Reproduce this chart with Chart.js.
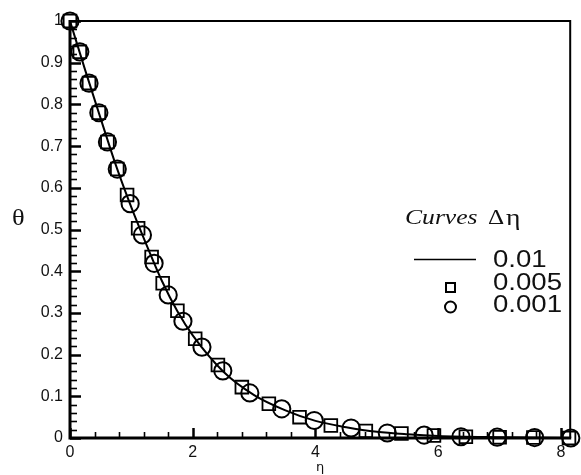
<!DOCTYPE html>
<html>
<head>
<meta charset="utf-8">
<script src="https://cdn.jsdelivr.net/npm/chart.js@4.4.1/dist/chart.umd.min.js"></script>
<style>
  html, body { margin: 0; padding: 0; background: #fff; }
  #wrap { width: 581px; height: 475px; }
</style>
</head>
<body>
<div id="wrap"><canvas id="theta-chart" width="581" height="475"></canvas></div>
<script>
// tick labels
const xTicks = [0, 2, 4, 6, 8];
const yTicks = [0, 0.1, 0.2, 0.3, 0.4, 0.5, 0.6, 0.7, 0.8, 0.9, 1];
const yTickLabels = ['0', '0.1', '0.2', '0.3', '0.4', '0.5', '0.6', '0.7', '0.8', '0.9', '1'];

// d_eta = 0.01 (solid line)
const lineEta   = [0, 0.25, 0.5, 0.75, 1.0, 1.25, 1.5, 1.75, 2.0, 2.5, 3.0, 3.5, 4.0, 4.5, 5.0, 5.5, 6.0, 7.0, 8.15];
const lineTheta = [1.0, 0.881, 0.766, 0.653, 0.553, 0.462, 0.376, 0.304, 0.246, 0.159, 0.103, 0.067, 0.041, 0.026, 0.015, 0.009, 0.005, 0.002, 0.0];

// d_eta = 0.005 (squares)
const squareEta   = [0, 0.16, 0.31, 0.47, 0.61, 0.77, 0.93, 1.11, 1.33, 1.51, 1.75, 2.04, 2.41, 2.8, 3.24, 3.74, 4.25, 4.82, 5.4, 5.93, 6.45, 7.0, 7.55, 8.13];
const squareTheta = [1.0, 0.926, 0.851, 0.78, 0.71, 0.645, 0.583, 0.503, 0.434, 0.371, 0.305, 0.238, 0.175, 0.122, 0.082, 0.05, 0.03, 0.017, 0.011, 0.006, 0.003, 0.002, 0.001, 0.0];

// d_eta = 0.001 (circles)
const circleEta   = [0, 0.16, 0.31, 0.47, 0.61, 0.77, 0.98, 1.18, 1.37, 1.6, 1.84, 2.15, 2.49, 2.93, 3.45, 3.98, 4.58, 5.17, 5.77, 6.37, 6.96, 7.57, 8.16];
const circleTheta = [1.0, 0.926, 0.851, 0.78, 0.71, 0.645, 0.562, 0.487, 0.419, 0.343, 0.28, 0.218, 0.161, 0.108, 0.07, 0.042, 0.024, 0.012, 0.007, 0.003, 0.002, 0.001, 0.0];

const toPoints = (xs, ys) => xs.map((v, i) => ({ x: v, y: ys[i] }));

// frame plus inward major/minor ticks
const frameAndTicks = {
    id: 'frameAndTicks',
    beforeDatasetsDraw(chart) {
        const { ctx, chartArea: a, scales: { x, y } } = chart;
        ctx.save();
        ctx.strokeStyle = '#000';
        ctx.lineCap = 'butt';

        // y ticks every 0.02, major every 0.1
        for (let i = 0; i <= 50; i++) {
            const py = Math.round(y.getPixelForValue(i * 0.02)) + 0.5;
            const major = i % 5 === 0;
            ctx.lineWidth = major ? 2.5 : 1.6;
            ctx.beginPath();
            ctx.moveTo(a.left, py);
            ctx.lineTo(a.left + (major ? 11 : 7), py);
            ctx.stroke();
        }
        // x ticks every 0.4, major every 2
        for (let i = 0; i <= 20; i++) {
            const px = Math.round(x.getPixelForValue(i * 0.4)) + 0.5;
            const major = i % 5 === 0;
            ctx.lineWidth = major ? 2.5 : 1.6;
            ctx.beginPath();
            ctx.moveTo(px, a.bottom);
            ctx.lineTo(px, a.bottom - (major ? 10 : 6));
            ctx.stroke();
        }

        // top and right border
        ctx.lineWidth = 2;
        ctx.beginPath();
        ctx.moveTo(a.left, a.top);
        ctx.lineTo(a.right, a.top);
        ctx.lineTo(a.right, a.bottom);
        ctx.stroke();

        // left and bottom axis
        ctx.lineWidth = 3;
        ctx.beginPath();
        ctx.moveTo(a.left, a.top - 1);
        ctx.lineTo(a.left, a.bottom);
        ctx.lineTo(a.right + 1, a.bottom);
        ctx.stroke();
        ctx.restore();
    }
};

// text stretched a little horizontally, as in the exported figure
function wideText(ctx, text, x, y, sx) {
    ctx.save();
    ctx.translate(x, y);
    ctx.scale(sx, 1);
    ctx.fillText(text, 0, 0);
    ctx.restore();
}

// theta label and the "Curves / d_eta" legend
const labelsAndLegend = {
    id: 'labelsAndLegend',
    afterDraw(chart) {
        const ctx = chart.ctx;
        ctx.save();
        ctx.fillStyle = '#111';
        ctx.strokeStyle = '#000';
        ctx.textBaseline = 'middle';
        ctx.textAlign = 'left';

        ctx.font = '24px "Liberation Serif"';
        wideText(ctx, 'θ', 12, 219, 1.1);

        ctx.font = 'italic 21px "Liberation Serif"';
        wideText(ctx, 'Curves', 405, 218, 1.22);
        ctx.font = '21px "Liberation Serif"';
        wideText(ctx, 'Δ', 488, 218, 1.2);
        ctx.font = '24px "Liberation Serif"';
        wideText(ctx, 'η', 506, 219, 1.15);

        ctx.font = '23px "Liberation Sans"';
        wideText(ctx, '0.01', 493, 261, 1.2);
        wideText(ctx, '0.005', 493, 284, 1.2);
        wideText(ctx, '0.001', 493, 306, 1.2);

        ctx.lineWidth = 1.5;
        ctx.beginPath();
        ctx.moveTo(414, 259.5);
        ctx.lineTo(476, 259.5);
        ctx.stroke();

        ctx.lineWidth = 2;
        ctx.strokeRect(446, 283, 9, 9);
        ctx.beginPath();
        ctx.arc(450.5, 307, 5.5, 0, Math.PI * 2);
        ctx.stroke();
        ctx.restore();
    }
};

const ctxTheta = document.getElementById('theta-chart').getContext('2d');
const thetaChart = new Chart(ctxTheta, {
    type: 'scatter',
    data: {
        datasets: [
            {
                label: '0.01',
                data: toPoints(lineEta, lineTheta),
                showLine: true,
                borderColor: '#000',
                borderWidth: 2,
                pointRadius: 0,
                cubicInterpolationMode: 'monotone',
                fill: false,
            },
            {
                label: '0.005',
                data: toPoints(squareEta, squareTheta),
                pointStyle: 'rect',
                pointRadius: 9,
                borderColor: '#000',
                backgroundColor: 'rgba(0,0,0,0)',
                pointBorderWidth: 1.8,
                clip: false,
            },
            {
                label: '0.001',
                data: toPoints(circleEta, circleTheta),
                pointStyle: 'circle',
                pointRadius: 8.6,
                borderColor: '#000',
                backgroundColor: 'rgba(0,0,0,0)',
                pointBorderWidth: 2,
                clip: false,
            },
        ],
    },
    options: {
        responsive: false,
        animation: false,
        layout: { padding: { left: 0, right: 10, top: 21, bottom: 0 } },
        scales: {
            x: {
                type: 'linear',
                min: 0,
                max: 8.15,
                afterBuildTicks: (scale) => { scale.ticks = xTicks.map(v => ({ value: v })); },
                afterFit: (scale) => { scale.height = 37; },
                grid: { display: false, drawTicks: false },
                border: { display: false },
                ticks: {
                    padding: 5,
                    color: '#111',
                    font: { family: '"Liberation Sans"', size: 16 },
                    callback: (v) => String(v),
                },
                title: {
                    display: true,
                    text: 'η',
                    color: '#111',
                    padding: 0,
                    font: { family: '"DejaVu Sans"', size: 13, lineHeight: 1.2 },
                },
            },
            y: {
                type: 'linear',
                min: 0,
                max: 1,
                afterBuildTicks: (scale) => { scale.ticks = yTicks.map(v => ({ value: v })); },
                afterFit: (scale) => { scale.width = 70; },
                grid: { display: false, drawTicks: false },
                border: { display: false },
                ticks: {
                    padding: 7,
                    color: '#111',
                    font: { family: '"Liberation Sans"', size: 16 },
                    callback: (v, i) => yTickLabels[i],
                },
            },
        },
        plugins: {
            legend: { display: false },
            tooltip: { enabled: false },
        },
    },
    plugins: [frameAndTicks, labelsAndLegend],
});
</script>
</body>
</html>
